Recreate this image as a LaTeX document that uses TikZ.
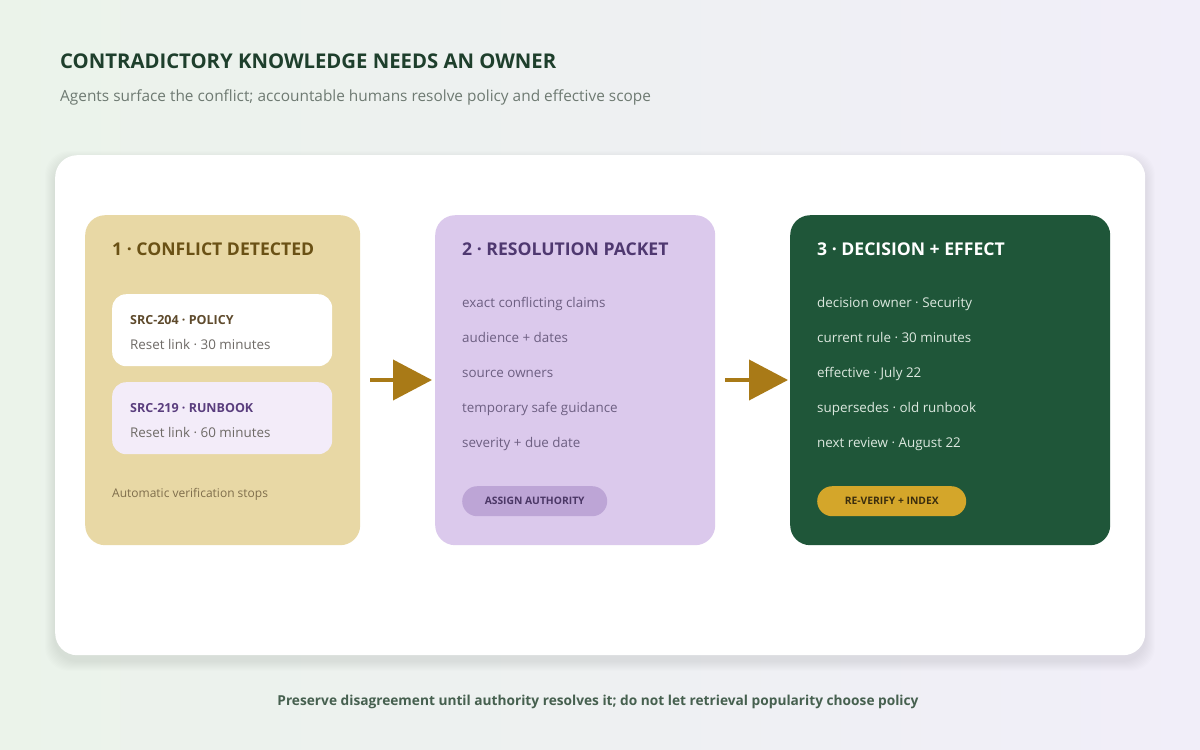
\documentclass[tikz,border=0pt]{standalone}
\usepackage{fontspec}
\setmainfont{Open Sans}
\usetikzlibrary{arrows.meta}
\definecolor{bgL}{HTML}{EBF3EA}
\definecolor{bgR}{HTML}{F1EEF9}
\definecolor{ttl}{HTML}{1E3F2C}
\definecolor{subt}{HTML}{6E7A72}
\definecolor{pOne}{HTML}{E8D8A5}
\definecolor{pOneT}{HTML}{6A5115}
\definecolor{srcA}{HTML}{5E4A2C}
\definecolor{resetT}{HTML}{6E6A66}
\definecolor{boxB}{HTML}{F3ECF9}
\definecolor{srcB}{HTML}{5A3E7E}
\definecolor{autoT}{HTML}{7F6E4C}
\definecolor{pTwo}{HTML}{DBC9EC}
\definecolor{pTwoT}{HTML}{4F3870}
\definecolor{pTwoI}{HTML}{6D5F82}
\definecolor{btnTwo}{HTML}{BDA5D6}
\definecolor{btnTwoT}{HTML}{4B3766}
\definecolor{pThree}{HTML}{1F5639}
\definecolor{pThreeI}{HTML}{DCE8DF}
\definecolor{btnThree}{HTML}{D4A62A}
\definecolor{btnThreeT}{HTML}{3A2D0E}
\definecolor{arr}{HTML}{A97A17}
\definecolor{foot}{HTML}{46604F}
\tikzset{
  panel/.style={rounded corners=20pt, inner sep=0pt, draw=none},
  inbox/.style={rounded corners=14pt, inner sep=0pt, draw=none},
  ptitle/.style={anchor=base west, inner sep=0pt, font=\fontsize{17.6}{20}\selectfont\bfseries},
  item/.style={anchor=base west, inner sep=0pt, font=\fontsize{13.4}{16}\selectfont},
  srclbl/.style={anchor=base west, inner sep=0pt, font=\fontsize{12.5}{14}\selectfont\bfseries},
  btn/.style={rounded corners=15pt, inner sep=0pt, draw=none},
  btntext/.style={inner sep=0pt, font=\fontsize{10.3}{12}\selectfont\bfseries},
  flow/.style={draw=arr, line width=4pt, -{Triangle[length=39pt,width=40pt]}, shorten >=0pt}
}
\begin{document}
\begin{tikzpicture}[x=1pt,y=-1pt]
\useasboundingbox (0,0) rectangle (1200,750);
% background
\shade[left color=bgL, right color=bgR] (0,0) rectangle (1200,750);
% card shadow
\foreach \i in {1,...,10}{
  \fill[black, opacity=0.006, rounded corners=24pt] (55-\i,155-\i+6) rectangle (1145+\i,655+\i+6);
}
\node[panel, fill=white, rounded corners=22pt, minimum width=1090pt, minimum height=500pt, anchor=north west] (card) at (55,155) {};
% titles
\node[anchor=base west, inner sep=0pt, text=ttl, font=\fontsize{20.3}{22}\selectfont\bfseries] (title) at (60,68) {CONTRADICTORY KNOWLEDGE NEEDS AN OWNER};
\node[anchor=base west, inner sep=0pt, text=subt, font=\fontsize{15.4}{18}\selectfont] (subtitle) at (60,101) {Agents surface the conflict; accountable humans resolve policy and effective scope};
% panel 1
\node[panel, fill=pOne, minimum width=275pt, minimum height=330pt, anchor=north west] (p1) at (85,215) {};
\node[ptitle, text=pOneT] (p1t) at (112,255) {1 · CONFLICT DETECTED};
\node[inbox, fill=white, minimum width=220pt, minimum height=72pt, anchor=north west] (b1) at (112,294) {};
\node[srclbl, text=srcA] (b1a) at (130,324) {SRC-204 · POLICY};
\node[item, text=resetT] (b1b) at (130,349.5) {Reset link · 30 minutes};
\node[inbox, fill=boxB, minimum width=220pt, minimum height=72pt, anchor=north west] (b2) at (112,382) {};
\node[srclbl, text=srcB] (b2a) at (130,412) {SRC-219 · RUNBOOK};
\node[item, text=resetT] (b2b) at (130,437.5) {Reset link · 60 minutes};
\node[anchor=base west, inner sep=0pt, text=autoT, font=\fontsize{12}{14}\selectfont] (auto) at (112,497) {Automatic verification stops};
% panel 2
\node[panel, fill=pTwo, minimum width=280pt, minimum height=330pt, anchor=north west] (p2) at (435,215) {};
\node[ptitle, text=pTwoT] (p2t) at (462,255) {2 · RESOLUTION PACKET};
\node[item, text=pTwoI] (p2a) at (462,307) {exact conflicting claims};
\node[item, text=pTwoI] (p2b) at (462,342) {audience + dates};
\node[item, text=pTwoI] (p2c) at (462,377) {source owners};
\node[item, text=pTwoI] (p2d) at (462,412) {temporary safe guidance};
\node[item, text=pTwoI] (p2e) at (462,447) {severity + due date};
\node[btn, fill=btnTwo, minimum width=145pt, minimum height=30pt, anchor=north west] (btn2) at (462,486) {};
\node[btntext, text=btnTwoT] (btn2t) at (btn2.center) {ASSIGN AUTHORITY};
% panel 3
\node[panel, fill=pThree, minimum width=320pt, minimum height=330pt, anchor=north west] (p3) at (790,215) {};
\node[ptitle, text=white] (p3t) at (817,255) {3 · DECISION + EFFECT};
\node[item, text=pThreeI] (p3a) at (817,307) {decision owner · Security};
\node[item, text=pThreeI] (p3b) at (817,342) {current rule · 30 minutes};
\node[item, text=pThreeI] (p3c) at (817,377) {effective · July 22};
\node[item, text=pThreeI] (p3d) at (817,412) {supersedes · old runbook};
\node[item, text=pThreeI] (p3e) at (817,447) {next review · August 22};
\node[btn, fill=btnThree, minimum width=149pt, minimum height=30pt, anchor=north west] (btn3) at (817,486) {};
\node[btntext, text=btnThreeT] (btn3t) at (btn3.center) {RE-VERIFY + INDEX};
% arrows
\coordinate (a1s) at (370,380);
\coordinate (a1e) at (432,380);
\coordinate (a2s) at (725,380);
\coordinate (a2e) at (788,380);
\draw[flow] (a1s) -- (a1e);
\draw[flow] (a2s) -- (a2e);
% footer
\node[inner sep=0pt, anchor=base, text=foot, font=\fontsize{13.7}{16}\selectfont\bfseries] (footer) at (598,705) {Preserve disagreement until authority resolves it; do not let retrieval popularity choose policy};
\end{tikzpicture}
\end{document}
